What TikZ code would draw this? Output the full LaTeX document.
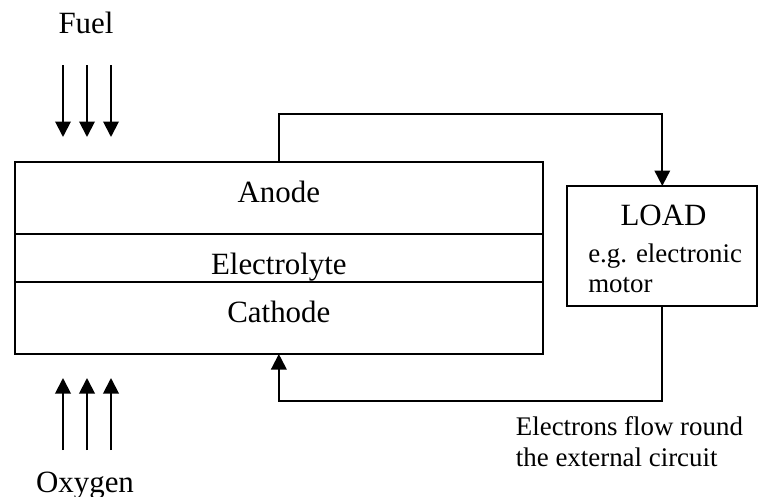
\documentclass[tikz,border=0pt]{standalone}
\usepackage{fontspec}
\setmainfont{Liberation Serif}
\usetikzlibrary{arrows.meta,positioning}
\tikzset{layer/.style={draw, rectangle, minimum width=10.566cm, inner sep=0pt,
  outer sep=0pt},
  big/.style={font=\fontsize{17.6}{21}\selectfont, inner sep=0pt, anchor=base},
  small/.style={font=\fontsize{15.3}{18}\selectfont, inner sep=0pt,
  anchor=base west}}

\begin{document}
\begin{tikzpicture}[>={Triangle[length=0.31cm, width=0.31cm]}, line width=1.1pt]
  \useasboundingbox (0,0) rectangle (15.18,9.92);
  % cell layers
  \node[layer, minimum height=1.446cm] (anode) at (5.577,5.957) {};
  \node[layer, minimum height=0.948cm, below=0pt of anode] (electrolyte) {};
  \node[layer, minimum height=1.446cm, below=0pt of electrolyte] (cathode) {};
  \node[big] (anodetxt) at (5.577,5.866) {Anode};
  \node[big] (electrolytetxt) at (5.577,4.434) {Electrolyte};
  \node[big] (cathodetxt) at (5.577,3.466) {Cathode};
  % load
  \node[draw, outer sep=0pt, minimum width=3.8cm, minimum height=2.4cm]
    (load) at (13.246,5.0) {};
  \node[big] (loadtxt) at (13.27,5.42) {LOAD};
  \node[small] (loadnote) at (11.746,4.68) {e.g. electronic};
  \node[small] (loadnote2) at (11.746,4.08) {motor};
  % fuel and oxygen
  \node[big] (fuel) at (1.72,9.26) {Fuel};
  \node[big] (oxygen) at (1.70,0.08) {Oxygen};
  \foreach \x [count=\i] in {1.26,1.74,2.22} {
    \coordinate (fuelin\i) at (\x,8.62);
    \coordinate (fuelout\i) at (\x,7.18);
    \draw[->] (fuelin\i) -- (fuelout\i);
    \coordinate (oxin\i) at (\x,0.92);
    \coordinate (oxout\i) at (\x,2.36);
    \draw[->] (oxin\i) -- (oxout\i);
  }
  % external circuit
  \draw[->] (anode.north) -- ++(0,0.96) -| (load.north);
  \draw[->] (load.south) -- ++(0,-1.9) -| (cathode.south);
  \node[small] (circuit1) at (10.30,1.22) {Electrons flow round};
  \node[small] (circuit2) at (10.30,0.586) {the external circuit};
\end{tikzpicture}
\end{document}
